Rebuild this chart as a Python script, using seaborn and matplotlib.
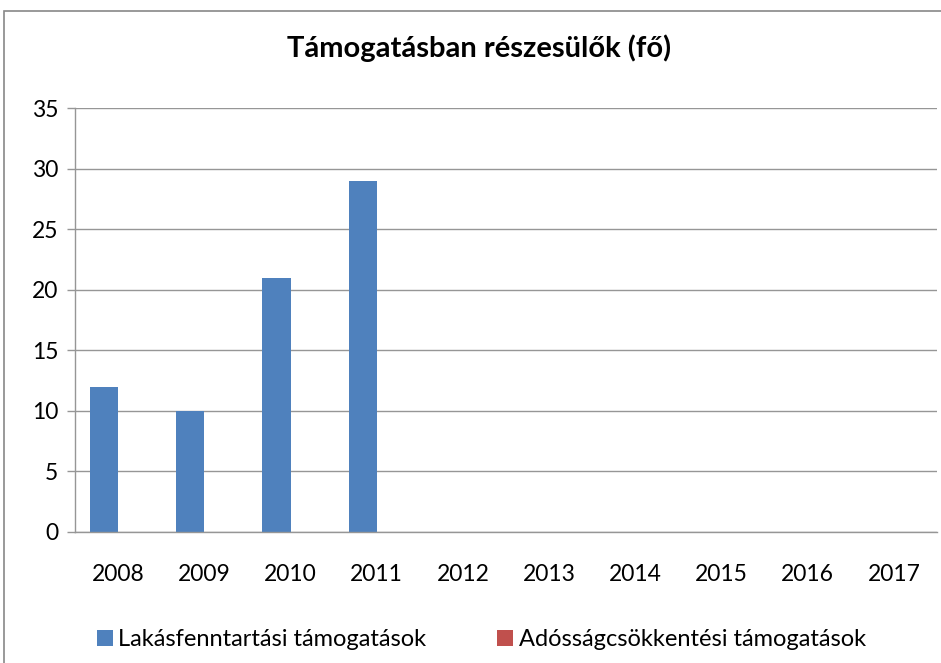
import matplotlib as mpl
import matplotlib.pyplot as plt
import seaborn as sns
import pandas as pd
from matplotlib.patches import Rectangle

years = ['2008', '2009', '2010', '2011', '2012', '2013', '2014', '2015', '2016', '2017']
lakas = [12, 10, 21, 29, 0, 0, 0, 0, 0, 0]
adossag = [0, 0, 0, 0, 0, 0, 0, 0, 0, 0]
series_names = ['Lakásfenntartási támogatások', 'Adósságcsökkentési támogatások']
colors = ['#4f81bd', '#c0504d']

sns.set_style('white')
plt.rcParams['font.family'] = ['Lato', 'DejaVu Sans']
plt.rcParams['text.color'] = 'black'

df = pd.DataFrame({
    'year': years * 2,
    'value': lakas + adossag,
    'series': [series_names[0]] * len(years) + [series_names[1]] * len(years),
})

fig = plt.figure(figsize=(9.41, 6.63), dpi=100)
ax = fig.add_axes([75 / 941, 1 - 532 / 663, 862 / 941, 424 / 663])

sns.barplot(data=df, x='year', y='value', hue='series', palette=colors,
            width=0.65, saturation=1, linewidth=0, ax=ax, legend=True)

ax.set_xlim(-0.5, 9.5)
ax.set_ylim(0, 35)
ax.set_yticks(range(0, 36, 5))
ax.yaxis.grid(True, color='#969696', linewidth=1)
ax.set_axisbelow(True)
ax.set_xlabel('')
ax.set_ylabel('')

# category boundaries as tick marks, labels in the middle
ax.set_xticks([i - 0.5 for i in range(11)])
ax.set_xticklabels([])
ax.set_xticks(range(10), minor=True)
ax.set_xticklabels(years, minor=True)
ax.tick_params(axis='x', which='major', length=7, color='#969696', width=1, direction='out')
ax.tick_params(axis='x', which='minor', length=0, labelsize=16.5, pad=23, labelcolor='black')
ax.tick_params(axis='y', length=6, color='#969696', width=1, labelsize=16.5, pad=6,
               left=True, labelcolor='black')

for s in ['top', 'right']:
    ax.spines[s].set_visible(False)
for s in ['left', 'bottom']:
    ax.spines[s].set_color('#969696')
    ax.spines[s].set_linewidth(1)

fig.suptitle('Támogatásban részesülők (fő)', x=479 / 941, y=1 - 34 / 663,
             fontsize=21, fontweight='bold', color='black')

handles, labels = ax.get_legend_handles_labels()
ax.legend(handles, labels, loc='center left', bbox_to_anchor=(76 / 941, 1 - 640 / 663),
          bbox_transform=fig.transFigure, ncol=2, frameon=False, fontsize=17,
          handlelength=0.65, handleheight=0.65, handletextpad=0.25, columnspacing=3.0)

fig.patches.append(Rectangle((4 / 941, -0.1), 1.2, 1.1 - 11 / 663,
                             transform=fig.transFigure, fill=False,
                             edgecolor='#888888', linewidth=1.2))

fig.savefig('out.png', dpi=100)
